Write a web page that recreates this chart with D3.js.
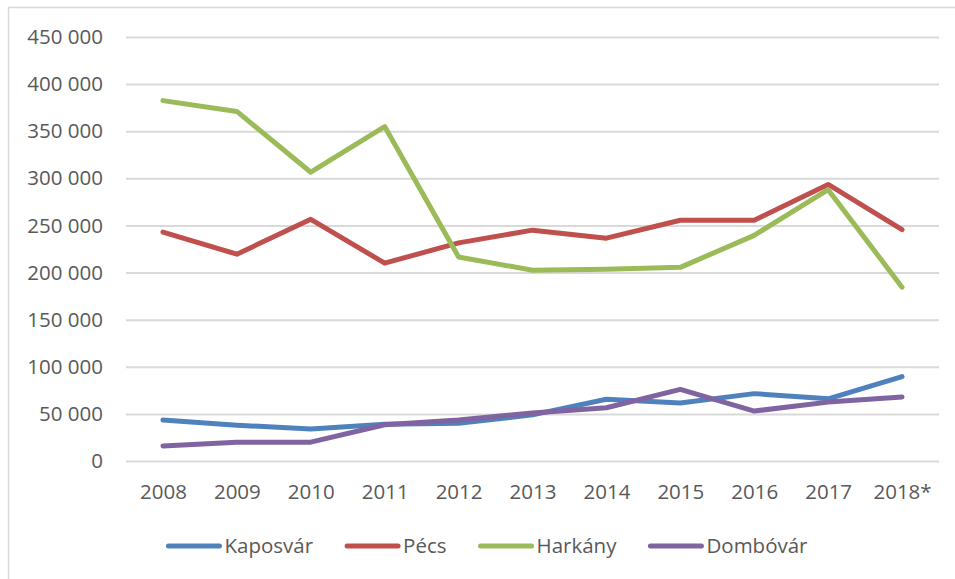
<!DOCTYPE html>
<html>
<head>
<meta charset="utf-8">
<script src="https://cdn.jsdelivr.net/npm/d3@7"></script>
<style>
  body { margin: 0; background: #fff; }
  text { font-family: "Open Sans", "Noto Sans", sans-serif; fill: #595959; }
</style>
</head>
<body>
<svg id="chart"></svg>
<script>
// Data
const years = ["2008", "2009", "2010", "2011", "2012", "2013", "2014", "2015", "2016", "2017", "2018*"];
const kaposvar = [43500, 38000, 34000, 39000, 40000, 49000, 65500, 61500, 71500, 66000, 89500];
const pecs     = [243000, 219500, 256500, 210000, 231500, 245000, 236500, 255500, 255500, 293500, 245500];
const harkany  = [382500, 371000, 306500, 355000, 216500, 202500, 203500, 205500, 239500, 288000, 184500];
const dombovar = [16000, 20000, 20000, 38500, 43500, 51000, 56500, 76000, 53000, 62500, 68000];
const seriesNames = ["Kaposvár", "Pécs", "Harkány", "Dombóvár"];
const seriesColors = ["#4F81BD", "#C0504D", "#9BBB59", "#8064A2"];
const yTicks = [0, 50000, 100000, 150000, 200000, 250000, 300000, 350000, 400000, 450000];

const series = [kaposvar, pecs, harkany, dombovar].map((vals, i) => ({
  name: seriesNames[i], color: seriesColors[i],
  values: vals.map((v, j) => ({ year: years[j], value: v }))
}));

const width = 955, height = 579;
const margin = { top: 37, right: 16, bottom: 118, left: 126 };
const innerW = width - margin.left - margin.right;
const innerH = height - margin.top - margin.bottom;

const svg = d3.select("#chart").attr("width", width).attr("height", height);

// outer frame (only top and left edges visible)
svg.append("rect")
  .attr("x", 8.5).attr("y", 7.5)
  .attr("width", 960).attr("height", 600)
  .attr("fill", "none").attr("stroke", "#d9d9d9").attr("stroke-width", 1.5);

const chart = svg.append("g").attr("transform", `translate(${margin.left},${margin.top})`);

const x = d3.scalePoint().domain(years).range([0, innerW]).padding(0.5);
const y = d3.scaleLinear().domain([0, 450000]).range([innerH, 0]);

const fmt = d => d3.format(",")(d).replace(/,/g, " ");

// gridlines
chart.append("g")
  .call(d3.axisLeft(y).tickValues(yTicks).tickSize(-innerW).tickFormat(""))
  .call(g => g.select(".domain").remove())
  .call(g => g.selectAll(".tick line").attr("stroke", "#d9d9d9").attr("stroke-width", 2));

// y labels
chart.append("g")
  .call(d3.axisLeft(y).tickValues(yTicks).tickSize(0).tickPadding(23).tickFormat(fmt))
  .call(g => g.select(".domain").remove())
  .call(g => g.selectAll("text").style("font-size", "20.5px").attr("fill", "#595959"));

// x labels
chart.append("g")
  .attr("transform", `translate(0,${innerH})`)
  .call(d3.axisBottom(x).tickSize(0).tickPadding(23))
  .call(g => g.select(".domain").remove())
  .call(g => g.selectAll("text").style("font-size", "20.5px").attr("fill", "#595959"));

const line = d3.line().x(d => x(d.year)).y(d => y(d.value));

chart.selectAll(".series")
  .data(series)
  .join("path")
  .attr("class", "series")
  .attr("d", d => line(d.values))
  .attr("fill", "none")
  .attr("stroke", d => d.color)
  .attr("stroke-width", 5)
  .attr("stroke-linejoin", "round")
  .attr("stroke-linecap", "round");

// legend
const legend = svg.append("g");
const sampleW = 55, textGap = 3, itemGap = 32, legendY = 546;
let cx = 0;
series.forEach(s => {
  const item = legend.append("g").attr("transform", `translate(${cx},0)`);
  item.append("line")
    .attr("x1", 2).attr("x2", sampleW - 2)
    .attr("y1", legendY).attr("y2", legendY)
    .attr("stroke", s.color).attr("stroke-width", 5).attr("stroke-linecap", "round");
  const t = item.append("text")
    .attr("x", sampleW + textGap).attr("y", legendY)
    .attr("dy", "0.35em")
    .style("font-size", "20.5px")
    .text(s.name);
  cx += sampleW + textGap + t.node().getComputedTextLength() + itemGap;
});
const legendW = cx - itemGap;
legend.attr("transform", `translate(${487 - legendW / 2},0)`);
</script>
</body>
</html>
